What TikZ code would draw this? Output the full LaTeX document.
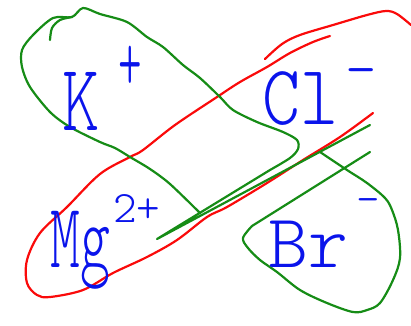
\documentclass[tikz,border=0pt]{standalone}
\usepackage{fontspec}
\newfontfamily\pen{Latin Modern Mono Light}
\definecolor{grn}{RGB}{22,140,22}
\definecolor{rdd}{RGB}{250,10,10}
\definecolor{blu}{RGB}{10,20,235}
\tikzset{
  gr/.style={draw=grn, line width=2.2pt, line cap=round, line join=round},
  rd/.style={draw=rdd, line width=2.2pt, line cap=round, line join=round},
  lab/.style={text=blu, inner sep=0pt, anchor=base west},
}
\newcommand{\penat}[1]{\pen\fontsize{#1}{#1}\selectfont}
\begin{document}
\begin{tikzpicture}[x=1pt,y=-1pt]
\useasboundingbox (0,0) rectangle (411,325);
% red strokes
\draw[rd] plot[smooth, tension=0.55] coordinates {(373,113) (340,137) (303,160) (267,183) (227,207) (207,217) (177,240) (147,257) (113,273) (83,290) (50,297) (37,295) (27,283) (27,260) (40,233) (67,207) (100,174) (130,157) (143,150) (175,125) (217,97) (240,82) (267,67) (290,53) (313,42) (330,36)};
\draw[rd] plot[smooth, tension=0.55] coordinates {(265,59) (282,44) (300,35) (333,25) (367,15) (386,11) (397,14) (411,25)};
% green strokes
\draw[gr] plot[smooth, tension=0.5] coordinates {(50,40) (52,28) (60,20) (72,17)};
\draw[gr] plot[smooth, tension=0.5] coordinates {(200,213) (170,184) (150,169) (130,157) (115,148) (100,142) (70,127) (50,112) (30,87) (22,67) (22,50) (33,35) (53,18) (72,17) (83,8) (100,14) (127,22) (147,37) (163,47) (183,65) (200,78) (220,97) (233,110) (257,122) (283,132) (297,140) (298,149) (290,158) (270,170)} -- (157,239) -- (370,125);
\draw[gr] (370,152) -- (252,226) plot[smooth, tension=0.55] coordinates {(252,226) (243,238) (248,248) (260,260) (277,272) (300,290) (327,303) (353,312) (367,310) (380,303) (393,280) (400,258) (398,230) (392,210) (385,198) (367,183) (347,170) (320,152)};
% labels
\node[lab, font=\penat{95}, xscale=0.75] (k) at (62,130) {K};
\node[lab, font=\penat{60}, xscale=0.75, yscale=1.4] (kp) at (118,90) {+};
\node[lab, font=\penat{85}, xscale=0.85] (cl) at (262,124) {Cl};
\node[lab, font=\penat{60}] (clm) at (345,88) {-};
\node[lab, font=\penat{92}, xscale=0.62] (mg) at (50,267) {Mg};
\node[lab, font=\penat{45}] (mgs) at (113,222) {2+};
\node[lab, font=\penat{76}] (br) at (268,267) {Br};
\node[lab, font=\penat{45}] (brm) at (356,213) {-};
\end{tikzpicture}
\end{document}
